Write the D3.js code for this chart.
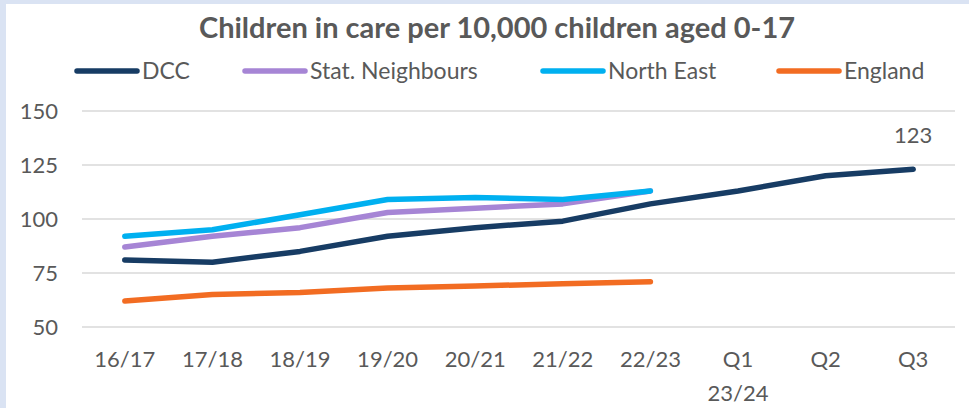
<!DOCTYPE html>
<html><head><meta charset="utf-8">
<script src="https://cdn.jsdelivr.net/npm/d3@7"></script>
<style>
html,body{margin:0;padding:0;background:#fff;}
svg{display:block;font-family:Lato,"Open Sans",sans-serif;}
</style></head>
<body>
<svg id="c" width="969" height="408"></svg>
<script>
const categories = ["16/17","17/18","18/19","19/20","20/21","21/22","22/23","Q1|23/24","Q2","Q3"];
const dcc = [81,80,85,92,96,99,107,113,120,123];
const statNeighbours = [87,92,96,103,105,107,113,null,null,null];
const northEast = [92,95,102,109,110,109,113,null,null,null];
const england = [62,65,66,68,69,70,71,null,null,null];
const yTicks = [50,75,100,125,150];
const seriesNames = ["DCC","Stat. Neighbours","North East","England"];
const seriesColors = ["#173c64","#a685d5","#00b0f0","#f26c22"];

const series = [
  {name:seriesNames[0], values:dcc, color:seriesColors[0]},
  {name:seriesNames[1], values:statNeighbours, color:seriesColors[1]},
  {name:seriesNames[2], values:northEast, color:seriesColors[2]},
  {name:seriesNames[3], values:england, color:seriesColors[3]}
];

const svg = d3.select("#c");
const W = 969, H = 408;
svg.append("rect").attr("x",0).attr("y",0).attr("width",W).attr("height",H).attr("fill","#dae3f3");
svg.append("rect").attr("x",6).attr("y",4).attr("width",W-6).attr("height",H-4).attr("fill","#fff");

const x = d3.scaleBand().domain(categories).range([81,957]);
const y = d3.scaleLinear().domain([50,150]).range([327,111]);
const textCol = "#595959";
const FS = "22px";

svg.append("g").selectAll("line").data(yTicks).join("line")
  .attr("x1",82).attr("x2",955)
  .attr("y1",d=>y(d)).attr("y2",d=>y(d))
  .attr("stroke","#d9d9d9").attr("stroke-width",1.5);

const yAxis = d3.axisLeft(y).tickValues(yTicks).tickSize(0).tickPadding(0);
const yg = svg.append("g").attr("transform","translate(58,0)").call(yAxis);
yg.select(".domain").remove();
yg.selectAll("text").attr("fill",textCol).style("font-size",FS).style("font-family","Lato,'Open Sans',sans-serif");

const xAxis = d3.axisBottom(x).tickSize(0).tickPadding(0).tickFormat(()=>"");
const xg = svg.append("g").attr("transform","translate(0,351)").call(xAxis);
xg.select(".domain").remove();
xg.selectAll(".tick").each(function(d){
  const parts = d.split("|");
  const t = d3.select(this).append("text").attr("fill",textCol)
    .style("font-size",FS).style("font-family","Lato,'Open Sans',sans-serif").attr("text-anchor","middle");
  parts.forEach((p,i)=>{
    t.append("tspan").attr("x",0).attr("y",i*34).attr("dy","0.71em").text(p);
  });
});

const line = d3.line()
  .defined(d=>d.v!=null)
  .x(d=>x(d.c)+x.bandwidth()/2)
  .y(d=>y(d.v));
const drawOrder = [3,0,1,2];
drawOrder.forEach(i=>{
  const s = series[i];
  svg.append("path")
    .datum(categories.map((c,j)=>({c, v:s.values[j]})))
    .attr("d",line).attr("fill","none")
    .attr("stroke",s.color).attr("stroke-width",5.5)
    .attr("stroke-linecap","round").attr("stroke-linejoin","round");
});

const lastIdx = categories.length-1;
svg.append("text")
  .attr("x",x(categories[lastIdx])+x.bandwidth()/2)
  .attr("y",y(dcc[lastIdx])-26)
  .attr("text-anchor","middle").attr("fill",textCol)
  .style("font-size",FS).text(dcc[lastIdx]);

svg.append("text").attr("x",497).attr("y",38).attr("text-anchor","middle")
  .attr("fill",textCol).style("font-size","29px").style("font-weight","bold")
  .text("Children in care per 10,000 children aged 0-17");

const legX = [77,245,543,779];
const leg = svg.append("g");
series.forEach((s,i)=>{
  const g = leg.append("g").attr("transform",`translate(${legX[i]},71)`);
  g.append("line").attr("x1",0).attr("x2",60).attr("y1",0).attr("y2",0)
    .attr("stroke",s.color).attr("stroke-width",5.5).attr("stroke-linecap","round");
  g.append("text").attr("x",65).attr("y",0).attr("dy","0.35em")
    .attr("fill",textCol).style("font-size","23px").text(s.name);
});
</script>
</body></html>
